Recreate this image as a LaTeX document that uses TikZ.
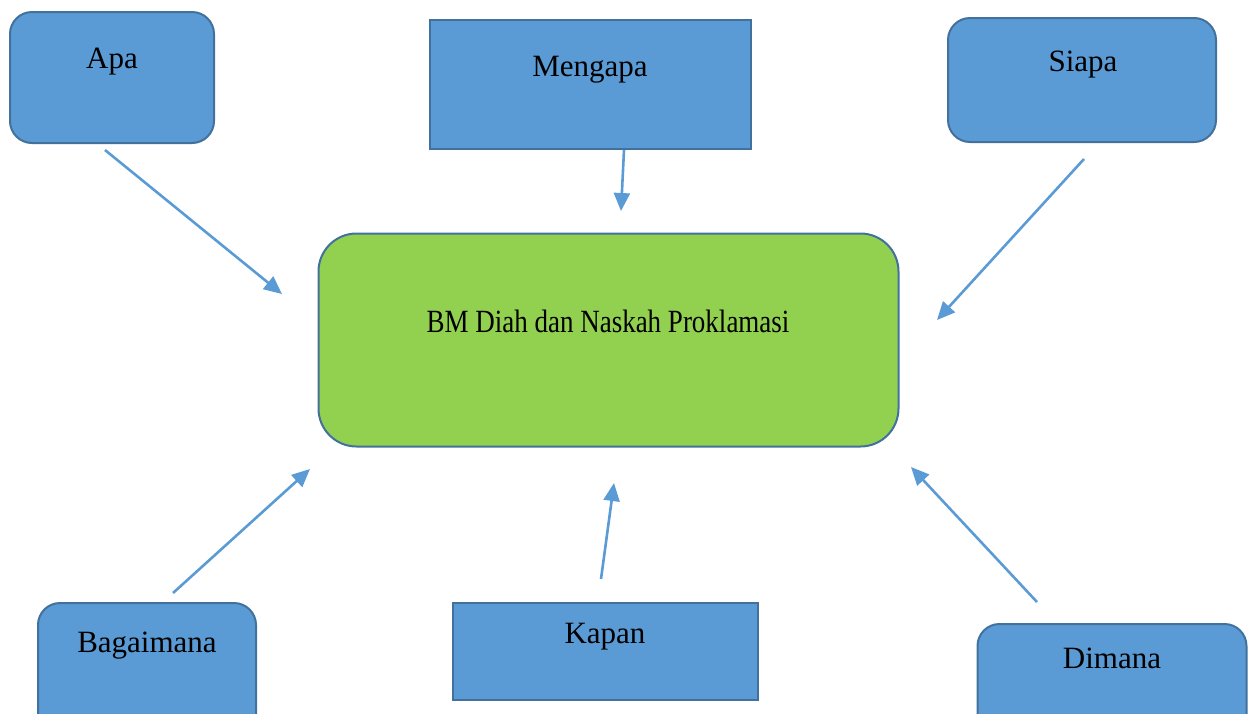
\documentclass[tikz,border=0pt]{standalone}
\usepackage{fontspec}
\setmainfont{Liberation Serif}
\usetikzlibrary{arrows.meta, positioning}
\definecolor{leafblue}{RGB}{91, 155, 213}
\definecolor{edgeblue}{RGB}{65, 113, 156}
\definecolor{topicgreen}{RGB}{146, 208, 80}
\tikzset{
    leaf/.style={draw=edgeblue, fill=leafblue, line width=2pt, inner sep=0pt},
    roundleaf/.style={leaf, rounded corners=22pt},
    topic/.style={draw=edgeblue, fill=topicgreen, line width=2pt, rounded corners=38pt, inner sep=0pt},
    leaftext/.style={font=\fontsize{31}{36}\selectfont, inner sep=0pt, anchor=base},
    topictext/.style={font=\fontsize{27}{32}\selectfont, inner sep=0pt, anchor=base, yscale=1.2, transform shape},
    link/.style={draw=leafblue, line width=2.6pt, -{Triangle[length=18pt, width=16pt]}}
}

\begin{document}
\begin{tikzpicture}[x=1pt, y=-1pt]
    \useasboundingbox (0,0) rectangle (1258,713);

    % central topic
    \node[topic, minimum width=580pt, minimum height=213pt] (bm) at (608.5,340) {};
    \node[topictext] (bmtext) at (608,332) {BM Diah dan Naskah Proklamasi};

    % question boxes
    \node[roundleaf, minimum width=204pt, minimum height=131pt] (apa) at (112,77.5) {};
    \node[leaftext] (apatext) at (112,68) {Apa};
    \node[leaf, minimum width=321pt, minimum height=129pt] (mengapa) at (590.5,84.5) {};
    \node[leaftext] (mengapatext) at (590,76) {Mengapa};
    \node[roundleaf, minimum width=268pt, minimum height=124pt] (siapa) at (1082,80) {};
    \node[leaftext] (siapatext) at (1083,71) {Siapa};
    \node[roundleaf, minimum width=218pt, minimum height=140pt] (bagaimana) at (147,673) {};
    \node[leaftext] (bagaimanatext) at (147,652) {Bagaimana};
    \node[leaf, minimum width=305pt, minimum height=97pt] (kapan) at (605.5,651.5) {};
    \node[leaftext] (kapantext) at (605,643) {Kapan};
    \node[roundleaf, minimum width=269pt, minimum height=120pt] (dimana) at (1112,684) {};
    \node[leaftext] (dimanatext) at (1112,668) {Dimana};

    % arrow ends
    \coordinate (apafrom) at (105,150);
    \coordinate (apato) at (282,294);
    \coordinate (mengapafrom) at (624,150);
    \coordinate (mengapato) at (621,211);
    \coordinate (siapafrom) at (1084,159);
    \coordinate (siapato) at (937,320);
    \coordinate (bagaimanafrom) at (173,593);
    \coordinate (bagaimanato) at (310,469);
    \coordinate (kapanfrom) at (601,579);
    \coordinate (kapanto) at (614,483);
    \coordinate (dimanafrom) at (1037,602);
    \coordinate (dimanato) at (911,467);

    \foreach \q in {apa, mengapa, siapa, bagaimana, kapan, dimana}
        \draw[link] (\q from) -- (\q to);
\end{tikzpicture}
\end{document}
